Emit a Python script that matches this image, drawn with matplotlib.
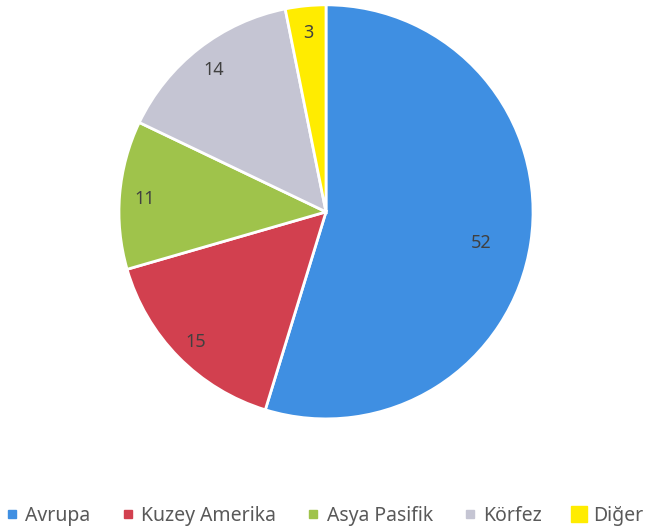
import matplotlib.pyplot as plt
from matplotlib.lines import Line2D

# slice data (clockwise from 12 o'clock)
regions = ["Avrupa", "Kuzey Amerika", "Asya Pasifik", "Körfez", "Diğer"]
shares = [52, 15, 11, 14, 3]
colors = ["#3f8fe2", "#d2404f", "#9fc34b", "#c5c5d3", "#ffec00"]

plt.rcParams["font.family"] = ["Noto Sans", "DejaVu Sans"]

fig = plt.figure(figsize=(6.48, 5.31), dpi=100)
ax = fig.add_axes([0.1836, 0.211, 0.639, 0.78])

wedges, texts = ax.pie(
    shares,
    colors=colors,
    startangle=90,
    counterclock=False,
    labels=[str(v) for v in shares],
    labeldistance=0.88,
    wedgeprops=dict(edgecolor="white", linewidth=2),
    textprops=dict(fontsize=13, color="#404040"),
)
for t in texts:
    t.set_ha("center")
    t.set_va("center_baseline")
# biggest slice label sits closer to the centre
x, y = texts[0].get_position()
texts[0].set_position((x * 0.86, y * 0.86 - 0.03))

ax.set_xlim(-1, 1)
ax.set_ylim(-1, 1)
ax.set_aspect("equal")

handles = []
for name, c in zip(regions, colors):
    ms = 11 if name == "Diğer" else 6
    handles.append(Line2D([], [], marker="s", linestyle="none", markersize=ms,
                          markerfacecolor=c, markeredgecolor=c, label=name))

fig.legend(handles=handles, loc="center", bbox_to_anchor=(0.5, 0.028),
           ncol=5, frameon=False, fontsize=14, handlelength=0.7,
           handletextpad=0.35, columnspacing=1.55, labelcolor="#595959",
           borderaxespad=0, borderpad=0)

plt.savefig("out.png", dpi=100)
